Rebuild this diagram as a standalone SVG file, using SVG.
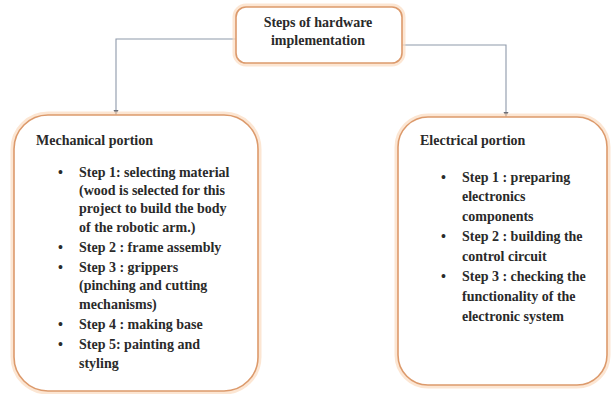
<svg xmlns="http://www.w3.org/2000/svg" width="611" height="394" viewBox="0 0 611 394">
<defs>
<style>
.glow{fill:none;stroke:#fbdcc0;stroke-width:7;opacity:0.7}
.box{fill:#ffffff;stroke:#dc9a6c;stroke-width:1.6}
.t{font-family:"Liberation Serif","Times New Roman",serif;font-weight:bold;font-size:14px;fill:#2a2a2a}
.c{text-anchor:middle}
.conn{fill:none;stroke:#8e99aa;stroke-width:1.1}
</style>
<marker id="arr" markerWidth="6" markerHeight="6" refX="5" refY="3" orient="auto" markerUnits="userSpaceOnUse">
<path d="M0,0.5 L5,3 L0,5.5 z" fill="#6b6f78"/>
</marker>
</defs>
<rect width="611" height="394" fill="#ffffff"/>
<g id="connectors">
<path class="conn" d="M236,39 H116 V115" marker-end="url(#arr)"/>
<path class="conn" d="M402,45 H506 V117" marker-end="url(#arr)"/>
</g>
<g id="node-top">
<rect class="glow" x="236" y="7" width="166" height="56" rx="10"/>
<rect class="box" x="236" y="7" width="166" height="56" rx="10"/>
<text class="t c" x="318" y="27">Steps of hardware</text>
<text class="t c" x="318" y="45">implementation</text>
</g>
<g id="node-mechanical">
<rect class="glow" x="14" y="115" width="244" height="276" rx="34"/>
<rect class="box" x="14" y="115" width="244" height="276" rx="34"/>
<text class="t" x="36" y="145">Mechanical portion</text>
<g class="t">
<text x="58" y="177">•</text>
<text x="79" y="177">Step 1: selecting material</text>
<text x="79" y="195">(wood is selected for this</text>
<text x="79" y="213">project to build the body</text>
<text x="79" y="232">of the robotic arm.)</text>
<text x="58" y="252">•</text>
<text x="79" y="252">Step 2 : frame assembly</text>
<text x="58" y="272">•</text>
<text x="79" y="272">Step 3 : grippers</text>
<text x="79" y="290">(pinching and cutting</text>
<text x="79" y="309">mechanisms)</text>
<text x="58" y="329">•</text>
<text x="79" y="329">Step 4 : making base</text>
<text x="58" y="349">•</text>
<text x="79" y="349">Step 5: painting and</text>
<text x="79" y="368">styling</text>
</g>
</g>
<g id="node-electrical">
<rect class="glow" x="398" y="117" width="209" height="268" rx="30"/>
<rect class="box" x="398" y="117" width="209" height="268" rx="30"/>
<text class="t" x="420" y="145">Electrical portion</text>
<g class="t">
<text x="441" y="182">•</text>
<text x="462" y="182">Step 1 : preparing</text>
<text x="462" y="201">electronics</text>
<text x="462" y="221">components</text>
<text x="441" y="241">•</text>
<text x="462" y="241">Step 2 : building the</text>
<text x="462" y="261">control circuit</text>
<text x="441" y="281">•</text>
<text x="462" y="281">Step 3 : checking the</text>
<text x="462" y="301">functionality of the</text>
<text x="462" y="321">electronic system</text>
</g>
</g>
</svg>
